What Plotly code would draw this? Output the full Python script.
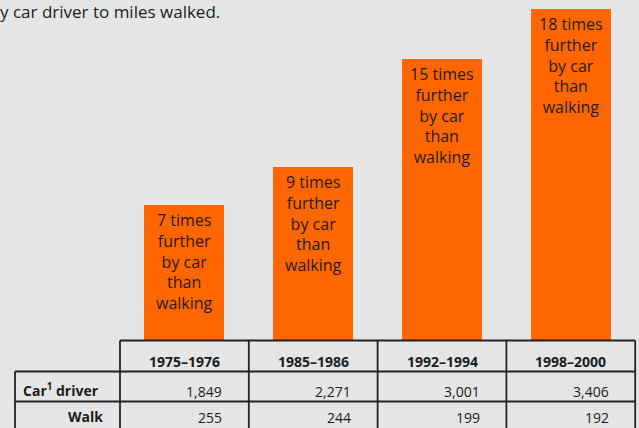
import plotly.graph_objects as go

# ---- data ----
periods = ["1975–1976", "1985–1986", "1992–1994", "1998–2000"]
car_driver_miles = [1849, 2271, 3001, 3406]
walk_miles = [255, 244, 199, 192]
times_further = ["7", "9", "15", "18"]
row_labels = ["Car<sup>1</sup> driver", "Walk"]
title_text = "y car driver to miles walked."

ratio = [c / w for c, w in zip(car_driver_miles, walk_miles)]

W, H = 639, 428
BG = "#e5e5e5"
ORANGE = "#ff6600"
INK = "#1c1c1c"
LINE = "#222222"
FONT = "Open Sans"

# pixel geometry helpers (layout only)
col_w = 128.8
col0 = 120.0
x_lo = -(col0 + col_w / 2) / col_w
x_hi = (W - col0 - col_w / 2) / col_w
base_px = 340.3
px_per_unit = 18.65
y_hi = base_px / px_per_unit
y_lo = -(H - base_px) / px_per_unit


def pxx(x):
    return x / W


def pxy(y):
    return 1 - y / H


idx = list(range(len(periods)))
bar_w = 0.62

fig = go.Figure()
fig.add_trace(go.Bar(
    x=idx, y=ratio, width=bar_w,
    marker=dict(color=ORANGE, line=dict(width=0)),
    hoverinfo="skip",
))

annotations = []
# bar texts
for i, t in enumerate(times_further):
    annotations.append(dict(
        x=i, y=ratio[i], xref="x", yref="y", xanchor="center", yanchor="top",
        yshift=-2, showarrow=False, align="center",
        text=f"{t} times<br>further<br>by car<br>than<br>walking",
        font=dict(family=FONT, size=16, color=INK),
    ))

# title fragment
annotations.append(dict(
    x=pxx(-2), y=pxy(-2), xref="paper", yref="paper", xanchor="left", yanchor="top",
    showarrow=False, text=title_text, font=dict(family=FONT, size=17, color=INK),
))

# table header
for i, p in enumerate(periods):
    annotations.append(dict(
        x=i, y=pxy(361), xref="x", yref="paper", xanchor="center", yanchor="middle",
        showarrow=False, text=f"<b>{p}</b>", font=dict(family=FONT, size=14, color=INK),
    ))

# table rows
rows = [car_driver_miles, walk_miles]
row_y = [390, 416]
label_right = [101, 105]
for r, (lab, vals) in enumerate(zip(row_labels, rows)):
    annotations.append(dict(
        x=pxx(label_right[r]), y=pxy(row_y[r]), xref="paper", yref="paper",
        xanchor="right", yanchor="middle", showarrow=False, text=f"<b>{lab}</b>",
        font=dict(family=FONT, size=14, color=INK),
    ))
    for i, v in enumerate(vals):
        annotations.append(dict(
            x=i + bar_w / 2, y=pxy(row_y[r] + 1), xref="x", yref="paper",
            xanchor="right", yanchor="middle", showarrow=False, text=f"{v:,}",
            font=dict(family=FONT, size=14, color=INK),
        ))

# table lines
shapes = []
lw = 1.8
def hline(x0, x1, y):
    shapes.append(dict(type="line", xref="paper", yref="paper",
                       x0=pxx(x0), x1=pxx(x1), y0=pxy(y), y1=pxy(y),
                       line=dict(color=LINE, width=lw)))
def vline(x, y0, y1):
    shapes.append(dict(type="line", xref="paper", yref="paper",
                       x0=pxx(x), x1=pxx(x), y0=pxy(y0), y1=pxy(y1),
                       line=dict(color=LINE, width=lw)))

right_edge = col0 + col_w * len(periods)
hline(col0, right_edge, 340.5)
hline(15, right_edge, 371.5)
hline(15, right_edge, 401.5)
vline(15, 371.5, 430)
for k in range(len(periods) + 1):
    vline(col0 + col_w * k, 340.5, 430)

fig.update_layout(
    width=W, height=H, autosize=False,
    margin=dict(l=0, r=0, t=0, b=0, pad=0),
    paper_bgcolor=BG, plot_bgcolor=BG,
    showlegend=False,
    xaxis=dict(range=[x_lo, x_hi], visible=False, fixedrange=True),
    yaxis=dict(range=[y_lo, y_hi], visible=False, fixedrange=True),
    annotations=annotations, shapes=shapes,
    bargap=0,
)

fig.write_html(
    "out.html",
    config={"displayModeBar": False},
    post_script="document.body.style.margin='0';document.body.style.overflow='hidden';"
                "document.body.style.background='" + BG + "';",
)
